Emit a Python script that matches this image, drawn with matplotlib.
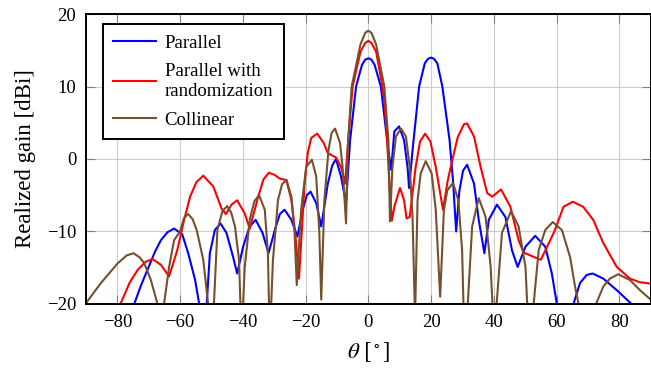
import matplotlib
matplotlib.use("Agg")
import matplotlib.pyplot as plt

# ── Data ─────────────────────────────────────────────────────────────────
theta_par = [-77, -74.6, -72.5, -70.4, -68, -66.1, -64, -61.9, -59.3, -57.4, -55.2,
             -53.5, -52.4, -51.5, -50.5, -48.9, -47.1, -45.2, -43.1, -41.8, -39.9,
             -37.8, -35.9, -33.7, -31.8, -29.8, -28.2, -26.7, -24.5, -22.6, -20.9,
             -19.6, -18.4, -16.6, -15.0, -12.9, -11.5, -10.3, -8.7, -7.1, -5.8,
             -3.9, -2.0, -1.0, 0, 1.0, 2.0, 4.0, 6.0, 6.7, 7.3, 8.3, 9.8, 11.4, 12.5, 13.0,
             14.1, 16.2, 18.0, 19.0, 20.0, 21.0, 22.0, 23.6, 25.9, 27.0, 28.0, 29.0, 30.2,
             31.5, 33.7, 35.2, 37.0, 38.4, 41.0, 43.7, 45.8, 47.6, 50.1, 53.2,
             56.4, 58.5, 60.1, 62.5, 65.4, 67.5, 69.6, 71.5, 74.9, 79.2, 83.9, 86]
gain_par = [-24, -20, -17.5, -15.3, -12.8, -11.2, -10.1, -9.6, -10.4, -13, -16.7,
            -21, -28, -20, -13, -9.8, -8.9, -10.2, -13.5, -15.8, -12.1,
            -9.3, -8.4, -10.2, -13, -9.8, -7.6, -7.0, -8.4, -10.7, -7.0,
            -5.0, -4.5, -6.1, -9.3, -3.4, -0.9, 0.0, -2.4, -6.1, 2.6,
            10.0, 13.0, 13.7, 13.9, 13.7, 13.0, 10.0, 2.6, 0.3, -1.5, 3.8, 4.5, 2.6, -1.1, -4.0,
            1.2, 10.0, 13.2, 13.8, 14.0, 13.8, 13.2, 10.0, 2.6, -3.0, -10.0, -4.5, -1.6,
            -0.8, -3.4, -8.4, -13.0, -8.4, -6.3, -8.0, -12.6, -14.9, -12.1, -10.6,
            -12.1, -15.8, -20, -27, -20, -17.1, -16.0, -15.8, -16.5, -18.1, -20, -21]

theta_rand = [-80.5, -79, -76, -73.5, -71, -68.8, -66.1, -63.5, -60.9, -58.7, -56.8,
              -54.8, -52.6, -49.4, -46.8, -45.4, -43.6, -41.8, -39.4, -37.8, -35.1,
              -33.4, -31.7, -29.8, -28.3, -26.1, -24.5, -23.3, -22.1, -20.3, -19.3,
              -18.2, -16.3, -14.2, -12.9, -10.3, -8.7, -7.4, -6.4, -5.0, -2.5, -1.0, 0,
              1.0, 2.5, 4.5, 5.1, 6.0, 6.7, 7.5, 8.3, 10.1, 11.4, 12.2, 13.2, 15.1,
              16.5, 18.1, 19.8, 21.5, 23.8, 25.3, 26.8, 28.5, 30.5, 31.5, 33.7,
              35.8, 37.9, 39.5, 42.3, 45.3, 47.9, 49.5, 52.7, 55.0, 58.0, 59.5,
              62.2, 65.2, 68.5, 71.7, 74.9, 79.2, 83.4, 86.5, 90]
gain_rand = [-23, -20, -17, -15.3, -14.2, -13.8, -14.6, -16.2, -12.6, -8.4, -5.2,
             -3.2, -2.3, -3.8, -6.8, -7.6, -6.3, -5.7, -7.5, -9.6, -5.2,
             -2.8, -1.9, -2.2, -2.7, -2.9, -5.7, -10.2, -16.5, -3.4, 0.8,
             2.9, 3.5, 2.2, 0.8, 0.2, -1.1, -3.4, 2.6, 10.0, 14.8, 16.0, 16.3,
             16.0, 14.8, 10.0, 8.1, 2.6, -3.3, -8.5, -6.6, -4.0, -5.7, -8.2, -8.0, -1.1,
             2.4, 3.5, 2.4, -1.1, -7.0, -3.0, -0.1, 3.0, 4.8, 4.9, 3.1,
             -1.1, -4.7, -5.2, -4.2, -6.6, -11.2, -12.9, -13.5, -13.9, -11.2, -9.8,
             -6.6, -5.9, -6.6, -8.4, -11.6, -14.9, -16.5, -17.0, -17.2]

theta_col = [-90, -85.2, -79.9, -77, -74.8, -72.8, -71.4, -69.3, -67.2, -66.2, -65.1,
             -63.5, -61.9, -60.0, -58.7, -57.4, -56, -54.7, -52.6, -50.8, -50.0,
             -49.2, -48.1, -46.5, -45.0, -43.7, -42.5, -41.2, -40.4, -39.4, -37.8,
             -36.3, -34.8, -33.0, -32.0, -31.4, -30.4, -29.3, -28.8, -27.5, -26.1,
             -24.5, -23.5, -22.8, -21.4, -19.8, -18.0, -16.6, -15.6, -15.0, -14.0,
             -12.7, -11.7, -10.6, -9.0, -8.2, -7.1, -6.5, -5.3, -2.5, -1.0, 0,
             1.0, 2.5, 5.1, 6.4, 6.9, 7.7, 8.8, 10.4, 12.0, 13.2, 14.1, 14.9,
             15.7, 16.7, 18.3, 20.2, 21.5, 22.9, 24.1, 25.2, 27.0, 28.7, 29.9,
             30.8, 31.7, 33.1, 35.2, 37.4, 39.0, 39.8, 40.4, 40.9, 42.6, 45.5,
             47.9, 50.1, 51.5, 52.7, 54.3, 56.4, 58.8, 61.7, 64.3, 65.9, 67.0,
             69.5, 72.6, 74.9, 77.0, 79.7, 83.4, 86.6, 90]
gain_col = [-19.9, -17.1, -14.4, -13.3, -13.0, -13.6, -14.4, -16.7, -20, -28, -20,
            -14.9, -11.2, -10.0, -8.1, -7.6, -8.3, -9.8, -13.9, -21, -30,
            -20, -9.8, -7.2, -6.5, -7.4, -9.3, -13.9, -25, -15, -8.4,
            -5.8, -5.0, -7.0, -13.0, -25, -14, -8.4, -5.7, -3.5, -2.9,
            -5.2, -10.2, -17.4, -7.0, -1.1, -0.1, -2.4, -10.2, -19.4, -5.7,
            1.2, 3.6, 4.2, 2.2, -1.1, -8.9, 2.0, 10.0, 15.8, 17.4, 17.7,
            17.4, 15.8, 10.0, 2.6, -8.6, -1.1, 3.1, 4.2, 3.1, -1.1, -8.0, -22,
            -5.7, -2.0, -0.3, -2.0, -7.0, -19.0, -7.0, -4.3, -3.3, -5.7, -12.6,
            -28, -20, -9.3, -5.4, -8.0, -14.9, -22, -28, -20, -10.2, -7.2,
            -9.3, -14.9, -28, -20, -12.6, -9.8, -8.7, -9.8, -13.5, -17.6, -20,
            -28, -20, -17.6, -16.5, -15.9, -16.7, -18.1, -19.4]

xticks = [-80, -60, -40, -20, 0, 20, 40, 60, 80]
yticks = [-20, -10, 0, 10, 20]

# ── Style ────────────────────────────────────────────────────────────────
plt.rcParams["font.family"] = ["Liberation Serif", "DejaVu Serif"]
plt.rcParams["mathtext.fontset"] = "stix"

c_par = "#0000ff"
c_rand = "#ff0000"
c_col = "#76502d"

# ── Plot ─────────────────────────────────────────────────────────────────
fig = plt.figure(figsize=(6.51, 3.79), dpi=100)
ax = fig.add_axes([0.132, 0.198, 0.8675, 0.765])

ax.plot(theta_par, gain_par, color=c_par, lw=1.5, label="Parallel")
ax.plot(theta_rand, gain_rand, color=c_rand, lw=1.5, label="Parallel with\nrandomization")
ax.plot(theta_col, gain_col, color=c_col, lw=1.5, label="Collinear")

ax.set_xlim(-90, 90)
ax.set_ylim(-20, 20)
ax.set_xticks(xticks)
ax.set_yticks(yticks)
ax.grid(color="#cccccc", lw=0.8)
ax.set_axisbelow(True)
ax.tick_params(direction="in", length=6.5, width=0.8, color="#808080",
               top=True, right=True, pad=7, labelsize=13.5)
for s in ax.spines.values():
    s.set_linewidth(1.4)

ax.set_xlabel(r"$\theta\ [^\circ]$", fontsize=16.5, labelpad=7)
ax.set_ylabel("Realized gain [dBi]", fontsize=16.5, labelpad=8)

leg = ax.legend(loc="upper left", bbox_to_anchor=(0.03, 0.965), fontsize=13.5,
                frameon=True, fancybox=False, framealpha=1, edgecolor="black",
                handlelength=2.3, handletextpad=0.45, borderpad=0.55,
                labelspacing=0.62, borderaxespad=0)
leg.get_frame().set_linewidth(1.4)

plt.savefig("out.png", dpi=100)
plt.close()
